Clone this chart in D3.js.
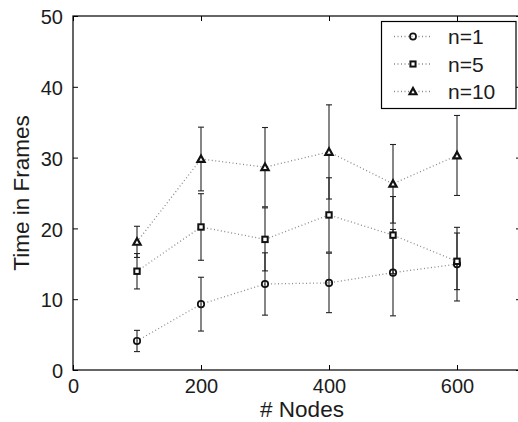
<!DOCTYPE html>
<html><head><meta charset="utf-8">
<script src="https://cdn.jsdelivr.net/npm/d3@7"></script>
<style>body{margin:0;background:#fff}svg{display:block;font-family:"Liberation Sans",Arial,sans-serif}</style>
</head><body>
<svg id="c" width="518" height="422"></svg>
<script>
const nodes = [100, 200, 300, 400, 500, 600];
const n1Mean = [4.1, 9.3, 12.15, 12.3, 13.75, 14.95];
const n1Err  = [1.5, 3.8, 4.4, 4.2, 6.1, 5.2];
const n5Mean = [13.95, 20.2, 18.45, 21.9, 19.05, 15.35];
const n5Err  = [2.5, 4.7, 4.45, 5.25, 5.45, 4.0];
const n10Mean = [18.1, 29.8, 28.65, 30.8, 26.3, 30.3];
const n10Err  = [2.2, 4.5, 5.6, 6.65, 5.55, 5.65];
const seriesNames = ["n=1", "n=5", "n=10"];
const markerKinds = ["circle", "square", "triangle"];
const xTicks = [0, 200, 400, 600];
const yTicks = [0, 10, 20, 30, 40, 50];

const svg = d3.select("#c");
const L = 73, R = 521, T = 16, B = 370;
const x = d3.scaleLinear().domain([0, 700]).range([L, R]);
const y = d3.scaleLinear().domain([0, 50]).range([B, T]);
const txt = "#1c1c1c";

const series = [
  {name: seriesNames[0], mean: n1Mean, err: n1Err, kind: markerKinds[0]},
  {name: seriesNames[1], mean: n5Mean, err: n5Err, kind: markerKinds[1]},
  {name: seriesNames[2], mean: n10Mean, err: n10Err, kind: markerKinds[2]}
];

const tickLen = 5;
const g = svg.append("g");
g.append("g").attr("transform", `translate(0,${B})`)
  .call(d3.axisBottom(x).tickValues(xTicks).tickSize(-tickLen).tickPadding(9).tickSizeOuter(0))
  .call(a => { a.select(".domain").remove(); a.selectAll("text").attr("font-size", 20).attr("fill", txt).attr("font-family", "Liberation Sans, Arial"); a.selectAll("line").attr("stroke", "#000"); });
g.append("g").attr("transform", `translate(0,${T})`)
  .call(d3.axisTop(x).tickValues(xTicks).tickSize(-tickLen).tickFormat("").tickSizeOuter(0))
  .call(a => { a.select(".domain").remove(); a.selectAll("line").attr("stroke", "#000"); });
g.append("g").attr("transform", `translate(${L},0)`)
  .call(d3.axisLeft(y).tickValues(yTicks).tickSize(-tickLen).tickPadding(10).tickSizeOuter(0))
  .call(a => { a.select(".domain").remove(); a.selectAll("text").attr("font-size", 20).attr("fill", txt).attr("font-family", "Liberation Sans, Arial").attr("dy", "0.38em"); a.selectAll("line").attr("stroke", "#000"); });
g.append("g").attr("transform", `translate(${R},0)`)
  .call(d3.axisRight(y).tickValues(yTicks).tickSize(-tickLen).tickFormat("").tickSizeOuter(0))
  .call(a => { a.select(".domain").remove(); a.selectAll("line").attr("stroke", "#000"); });
svg.append("rect").attr("x", L).attr("y", T).attr("width", R - L).attr("height", B - T)
  .attr("fill", "none").attr("stroke", "#000").attr("stroke-width", 1.2);

svg.append("text").attr("x", 302).attr("y", 416.5).attr("text-anchor", "middle")
  .attr("font-size", 22.5).attr("fill", txt).text("# Nodes");
svg.append("text").attr("transform", `translate(29,${(T + B) / 2}) rotate(-90)`).attr("text-anchor", "middle")
  .attr("font-size", 22.5).attr("fill", txt).text("Time in Frames");

function drawMarker(sel, kind, cx, cy, sc) {
  sc = sc || 1;
  if (kind === "circle") {
    sel.append("circle").attr("cx", cx).attr("cy", cy).attr("r", 3.2 * sc)
      .attr("fill", "none").attr("stroke", "#111").attr("stroke-width", 1.7);
  } else if (kind === "square") {
    const h = 2.7 * sc;
    sel.append("rect").attr("x", cx - h).attr("y", cy - h).attr("width", 2 * h).attr("height", 2 * h)
      .attr("fill", "#fff").attr("stroke", "#111").attr("stroke-width", 2);
  } else {
    const s = 3.6 * sc;
    sel.append("path").attr("d", `M${cx},${cy - s}L${cx + s},${cy + s * 0.8}L${cx - s},${cy + s * 0.8}Z`)
      .attr("fill", "#fff").attr("stroke", "#111").attr("stroke-width", 2.2).attr("stroke-linejoin", "miter");
  }
}

const line = d3.line().x(d => x(d[0])).y(d => y(d[1]));
const plot = svg.append("g");
series.forEach(s => {
  plot.append("path").datum(nodes.map((n, i) => [n, s.mean[i]]))
    .attr("d", line).attr("fill", "none").attr("stroke", "#8a8a8a").attr("stroke-width", 1.3)
    .attr("stroke-dasharray", "1,2.5");
});
series.forEach(s => {
  nodes.forEach((n, i) => {
    const cx = x(n), y1 = y(s.mean[i] + s.err[i]), y2 = y(s.mean[i] - s.err[i]);
    plot.append("line").attr("x1", cx).attr("x2", cx).attr("y1", y1).attr("y2", y2).attr("stroke", "#222").attr("stroke-width", 1.1);
    [y1, y2].forEach(yy => plot.append("line").attr("x1", cx - 3).attr("x2", cx + 3).attr("y1", yy).attr("y2", yy).attr("stroke", "#222").attr("stroke-width", 1.1));
  });
});
series.forEach(s => {
  nodes.forEach((n, i) => drawMarker(plot, s.kind, x(n), y(s.mean[i])));
});

const lg = svg.append("g");
lg.append("rect").attr("x", 381.5).attr("y", 21.5).attr("width", 134.5).attr("height", 87)
  .attr("fill", "#fff").attr("stroke", "#000").attr("stroke-width", 1.2);
series.forEach((s, i) => {
  const cy = 36.5 + i * 27.5;
  lg.append("line").attr("x1", 394).attr("x2", 432).attr("y1", cy).attr("y2", cy)
    .attr("stroke", "#8a8a8a").attr("stroke-width", 1.3).attr("stroke-dasharray", "1,2.5");
  drawMarker(lg, s.kind, 413, cy, 0.95);
  lg.append("text").attr("x", 448).attr("y", cy + 7.5).attr("font-size", 21).attr("fill", txt).text(s.name);
});
</script>
</body></html>
